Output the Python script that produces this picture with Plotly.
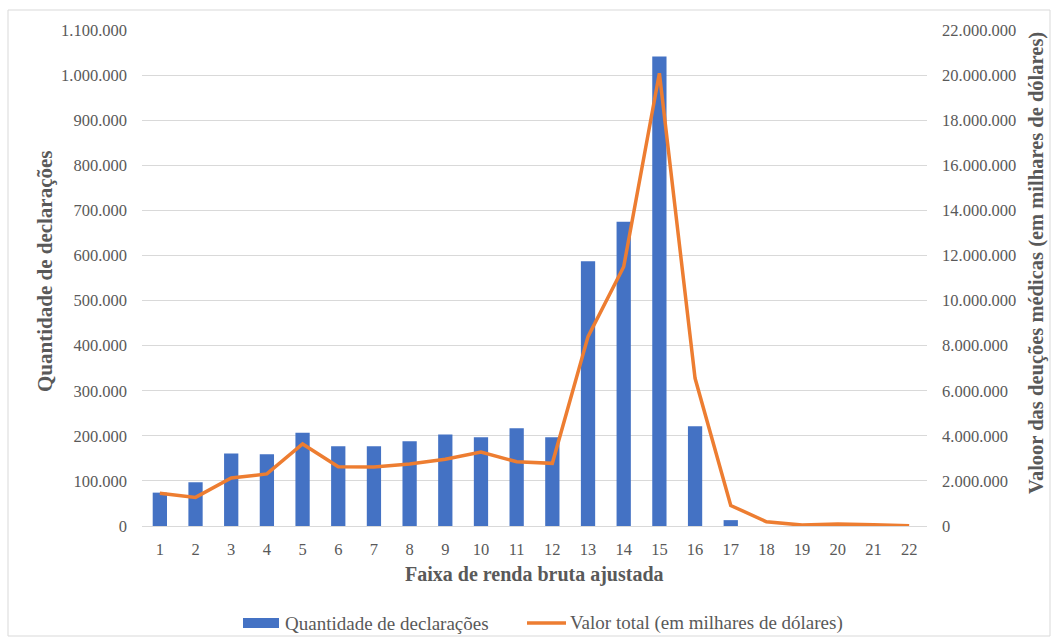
import plotly.graph_objects as go

categorias = [str(i) for i in range(1, 23)]
quantidade = [74000, 97000, 161000, 159000, 207000, 177000, 177000, 188000, 203000, 197000,
              217000, 197000, 587000, 675000, 1041000, 221000, 13000, 0, 0, 0, 0, 0]
valor_total = [1450000, 1270000, 2130000, 2310000, 3640000, 2630000, 2620000, 2750000, 2960000,
               3280000, 2850000, 2780000, 8400000, 11500000, 20080000, 6550000, 910000, 190000,
               40000, 90000, 50000, 10000]
nome_barras = "Quantidade de declarações"
nome_linha = "Valor total (em milhares de dólares)"

serif = "Liberation Serif, Times New Roman, serif"
gray = "#595959"
grid = "#d9d9d9"
blue = "#4472C4"
orange = "#ED7D31"

W, H = 1058, 643
L, R, T, B = 142, 131, 30, 117
pw, ph = W - L - R, H - T - B


def px(x):
    return (x - L) / pw


def py(y):
    return (H - B - y) / ph


fig = go.Figure()
fig.add_trace(go.Bar(x=categorias, y=quantidade, name=nome_barras,
                     marker=dict(color=blue, line=dict(width=0)), width=0.4))
fig.add_trace(go.Scatter(x=categorias, y=valor_total, name=nome_linha,
                         mode="lines", line=dict(color=orange, width=3.5), yaxis="y2"))

fig.update_layout(
    width=W, height=H,
    margin=dict(l=L, r=R, t=T, b=B, autoexpand=False),
    paper_bgcolor="white", plot_bgcolor="white",
    separators=",.",
    font=dict(family=serif, color=gray, size=16),
    showlegend=False,
    xaxis=dict(type="category", range=[-0.5, 21.5], showgrid=False, showline=True,
               linecolor=grid, linewidth=1, ticks="", tickfont=dict(size=16.5, color=gray),
               ticklabelstandoff=8, automargin=False),
    yaxis=dict(range=[0, 1100000], dtick=100000, tickformat=",d", showgrid=True,
               gridcolor=grid, gridwidth=1, zeroline=False, showline=False,
               tickfont=dict(size=16.5, color=gray), ticklabelstandoff=14, automargin=False),
    yaxis2=dict(range=[0, 22000000], dtick=2000000, tickformat=",d", overlaying="y",
                side="right", showgrid=False, zeroline=False, showline=False,
                tickfont=dict(size=16.5, color=gray), ticklabelstandoff=14, automargin=False),
    annotations=[
        dict(text="<b>Faixa de renda bruta ajustada</b>", xref="paper", yref="paper",
             x=px(534), y=py(574), xanchor="center", yanchor="middle", showarrow=False,
             font=dict(family=serif, size=20, color=gray)),
        dict(text="<b>Quantidade de declarações</b>", xref="paper", yref="paper",
             x=px(45), y=py(271), xanchor="center", yanchor="middle", textangle=-90,
             showarrow=False, font=dict(family=serif, size=21, color=gray)),
        dict(text="<b>Valoor das deuções médicas (em milhares de dólares)</b>", xref="paper",
             yref="paper", x=px(1036), y=py(263), xanchor="center", yanchor="middle",
             textangle=-90, showarrow=False, font=dict(family=serif, size=20.5, color=gray)),
        dict(text=nome_barras, xref="paper", yref="paper", x=px(283), y=py(623),
             xanchor="left", yanchor="middle", showarrow=False,
             font=dict(family=serif, size=19, color=gray)),
        dict(text=nome_linha, xref="paper", yref="paper", x=px(568), y=py(623),
             xanchor="left", yanchor="middle", showarrow=False,
             font=dict(family=serif, size=19, color=gray)),
    ],
    shapes=[
        dict(type="rect", xref="paper", yref="paper", x0=px(8), x1=px(1050),
             y0=py(636), y1=py(10), line=dict(color=grid, width=1),
             fillcolor="rgba(0,0,0,0)", layer="below"),
        dict(type="rect", xref="paper", yref="paper", x0=px(243), x1=px(279),
             y0=py(628), y1=py(618), line=dict(width=0), fillcolor=blue),
        dict(type="line", xref="paper", yref="paper", x0=px(527), x1=px(566),
             y0=py(623), y1=py(623), line=dict(color=orange, width=3.5)),
    ],
)

fig.write_html("out.html", config={"displayModeBar": False},
               post_script="document.body.style.margin='0';document.body.style.overflow='hidden';")
